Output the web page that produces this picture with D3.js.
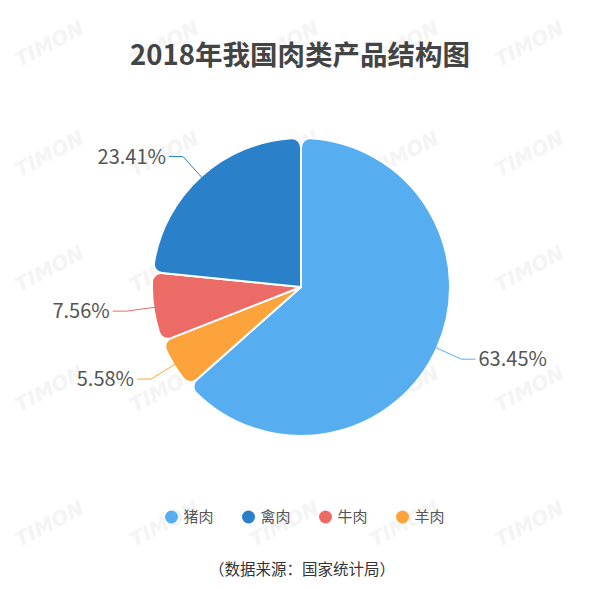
<html>
<head>
<meta charset="utf-8">
<style>
  body { margin: 0; background: #fff; }
  svg { display: block; }
</style>
</head>
<script src="https://d3js.org/d3.v7.min.js"></script>
<body>
<svg width="592" height="589"></svg>
<script>
// drawing order (clockwise from 12 o'clock)
const names = ['猪肉', '羊肉', '牛肉', '禽肉'];
const values = [63.45, 5.58, 7.56, 23.41];
const colors = ['#56aef1', '#fca43b', '#ec6b66', '#2a80c9'];
// legend order
const legendNames = ['猪肉', '禽肉', '牛肉', '羊肉'];

const title = '2018年我国肉类产品结构图';
const source = '（数据来源：国家统计局）';

const W = 592, H = 589;
const cx = 301, cy = 287, R = 149;
const font = '"Noto Sans CJK SC", "Noto Sans", sans-serif';

const svg = d3.select('svg');

// faint watermark
const wm = svg.append('g').attr('class', 'watermark');
const wmXs = [50, 165, 285, 405, 530];
const wmYs = [45, 155, 270, 390, 525];
wmYs.forEach(y => wmXs.forEach(x => {
    wm.append('text')
        .attr('transform', `translate(${x},${y}) rotate(-28)`)
        .attr('text-anchor', 'middle')
        .attr('dominant-baseline', 'middle')
        .style('font-family', 'DejaVu Sans, sans-serif')
        .style('font-weight', 'bold')
        .style('font-style', 'italic')
        .style('font-size', '20px')
        .style('fill', '#e8e8e8')
        .style('opacity', 0.45)
        .text('TIMON');
}));

svg.append('text')
    .attr('x', W / 2 + 4)
    .attr('y', 65)
    .attr('text-anchor', 'middle')
    .style('font-family', font)
    .style('font-weight', 'bold')
    .style('font-size', '27.5px')
    .style('fill', '#444')
    .text(title);

const pie = d3.pie().sort(null).value(d => d)(values);

const arc = d3.arc().innerRadius(0).outerRadius(R).cornerRadius(9);

const g = svg.append('g').attr('transform', `translate(${cx},${cy})`);

g.selectAll('path')
    .data(pie)
    .enter()
    .append('path')
    .attr('d', arc)
    .attr('fill', (d, i) => colors[i])
    .attr('stroke', '#fff')
    .attr('stroke-width', 2)
    .attr('stroke-linejoin', 'round');

// labels with leader lines
const r1 = R, r2 = R + 27, len2 = 14;
pie.forEach((d, i) => {
    const a = (d.startAngle + d.endAngle) / 2;
    const p1 = [Math.sin(a) * (r1 - 2), -Math.cos(a) * (r1 - 2)];
    const p2 = [Math.sin(a) * r2, -Math.cos(a) * r2];
    const right = Math.sin(a) > 0;
    const p3 = [p2[0] + (right ? len2 : -len2), p2[1]];
    g.append('polyline')
        .attr('points', [p1, p2, p3].map(p => p.join(',')).join(' '))
        .attr('fill', 'none')
        .attr('stroke', colors[i])
        .attr('stroke-width', 1);
    g.append('text')
        .attr('x', p3[0] + (right ? 3 : -3))
        .attr('y', p3[1])
        .attr('dy', '0.36em')
        .attr('text-anchor', right ? 'start' : 'end')
        .style('font-family', font)
        .style('font-size', '20px')
        .style('fill', '#555')
        .text(values[i].toFixed(2) + '%');
});

// legend
const itemW = 77, legendCx = 302, legendY = 517;
const legendStart = legendCx - (legendNames.length * itemW - 33) / 2;
const legend = svg.append('g');
legendNames.forEach((n, i) => {
    const x = legendStart + i * itemW;
    const idx = names.indexOf(n);
    legend.append('circle')
        .attr('cx', x + 7)
        .attr('cy', legendY)
        .attr('r', 6.5)
        .attr('fill', colors[idx]);
    legend.append('text')
        .attr('x', x + 19)
        .attr('y', legendY)
        .attr('dy', '0.36em')
        .style('font-family', font)
        .style('font-size', '15px')
        .style('fill', '#555')
        .text(n);
});

svg.append('text')
    .attr('x', W / 2 + 6)
    .attr('y', 575)
    .attr('text-anchor', 'middle')
    .style('font-family', font)
    .style('font-size', '15.5px')
    .style('fill', '#333')
    .text(source);
</script>
</body>
</html>
